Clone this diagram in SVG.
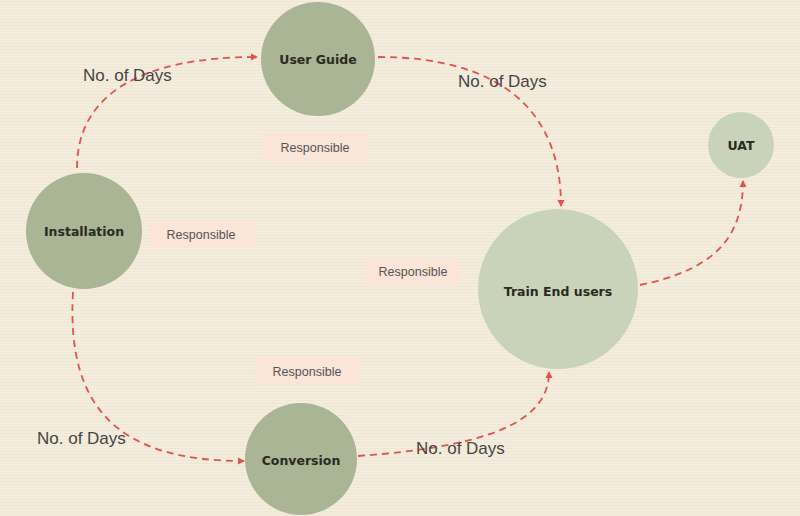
<svg xmlns="http://www.w3.org/2000/svg" width="800" height="516" viewBox="0 0 800 516">
<defs>
<pattern id="tex" width="8" height="3" patternUnits="userSpaceOnUse">
<rect width="8" height="3" fill="#f4eddd"/>
<rect y="1" width="8" height="1" fill="#efe7d5"/>
</pattern>
<marker id="arr" markerWidth="8" markerHeight="8" refX="6" refY="4" orient="auto" markerUnits="userSpaceOnUse">
<path d="M0,0.5 L7,4 L0,7.5 z" fill="#e2524f"/>
</marker>
<style>
.conn{fill:none;stroke:#e2524f;stroke-width:1.8;stroke-dasharray:7,5;marker-end:url(#arr)}
.dark{fill:#a9b594}
.light{fill:#c9d3ba}
.nt{font-family:"DejaVu Sans",sans-serif;font-weight:bold;font-size:12.5px;fill:#2a2a22;text-anchor:middle}
.days{font-family:"Liberation Sans",Arial,sans-serif;font-size:17px;fill:#444}
.resp{fill:#fbe4d8}
.rt{font-family:"Liberation Sans",Arial,sans-serif;font-size:12.5px;fill:#555;text-anchor:middle}
</style>
</defs>
<rect width="800" height="516" fill="url(#tex)"/>
<g id="connectors">
<path class="conn" d="M77,168 C77,95 140,57 257,57"/>
<path class="conn" d="M378,57 C500,57 561,110 561,206"/>
<path class="conn" d="M73,292 C66,410 120,461 244,461"/>
<path class="conn" d="M358,456 C480,447 549,425 549,372"/>
<path class="conn" d="M640,285 C712,270 743,240 743,181"/>
</g>
<g id="labels">
<text class="days" x="83" y="81">No. of Days</text>
<text class="days" x="458" y="87">No. of Days</text>
<text class="days" x="37" y="444">No. of Days</text>
<text class="days" x="416" y="454">No. of Days</text>
<rect class="resp" x="262" y="133" width="106" height="29"/>
<text class="rt" x="315" y="152">Responsible</text>
<rect class="resp" x="149" y="220" width="106" height="28"/>
<text class="rt" x="201" y="239">Responsible</text>
<rect class="resp" x="366" y="258" width="94" height="27"/>
<text class="rt" x="413" y="276">Responsible</text>
<rect class="resp" x="255" y="357" width="105" height="28"/>
<text class="rt" x="307" y="376">Responsible</text>
</g>
<g id="user-guide">
<circle class="dark" cx="318" cy="59" r="57"/>
<text class="nt" x="318" y="64">User Guide</text>
</g>
<g id="installation">
<circle class="dark" cx="84" cy="231" r="58"/>
<text class="nt" x="84" y="236">Installation</text>
</g>
<g id="conversion">
<circle class="dark" cx="301" cy="459" r="56"/>
<text class="nt" x="301" y="465">Conversion</text>
</g>
<g id="train-end-users">
<circle class="light" cx="558" cy="289" r="80"/>
<text class="nt" x="558" y="296">Train End users</text>
</g>
<g id="uat">
<circle class="light" cx="741" cy="145" r="33"/>
<text class="nt" x="741" y="150">UAT</text>
</g>
</svg>
